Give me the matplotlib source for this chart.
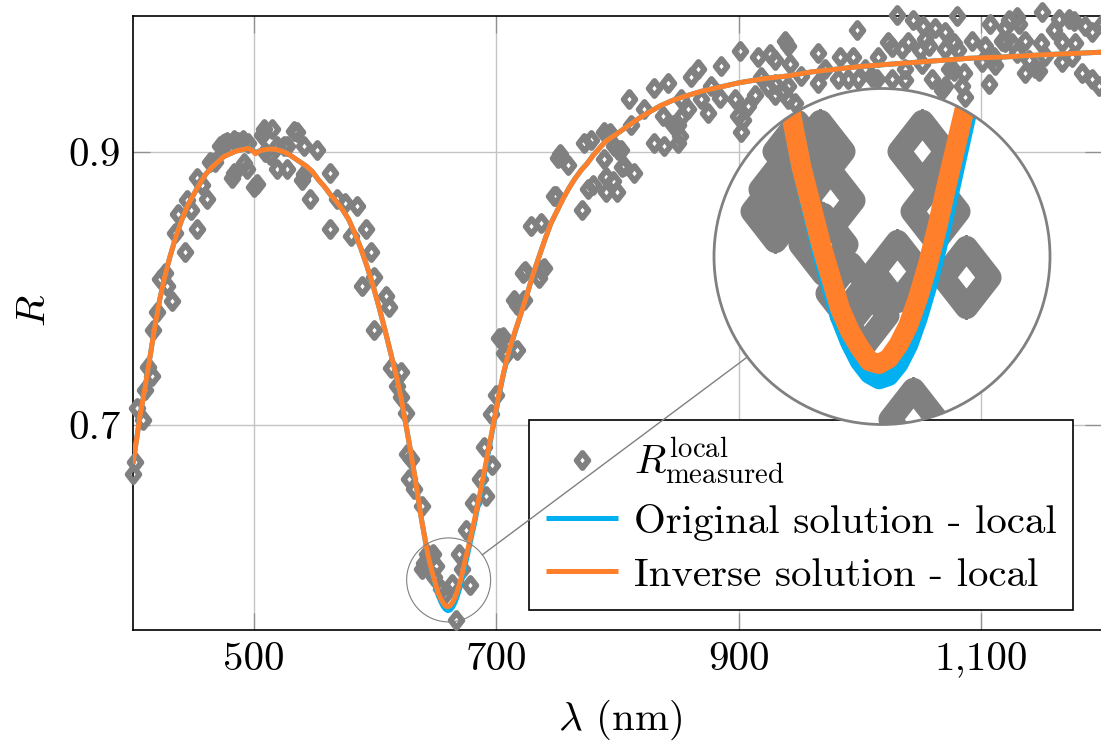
import matplotlib
matplotlib.use("Agg")
import matplotlib.pyplot as plt
from matplotlib.patches import Circle
from matplotlib.path import Path
from matplotlib.lines import Line2D
from matplotlib.transforms import IdentityTransform

FS = 29.5
plt.rcParams.update({
    "font.family": "cmr10",
    "mathtext.fontset": "cm",
    "axes.formatter.use_mathtext": True,
    "font.size": FS,
})

# ---------------- data ----------------
meas_x = [400.3, 401.7, 402.9, 408.5, 409.9, 412.7, 415.5, 416.8, 419.6, 422.3,
          426.5, 427.9, 432.0, 434.8, 437.5, 443.0, 444.4, 448.0, 452.7, 452.7,
          456.8, 461.0, 463.7, 467.9, 472.0, 474.0, 476.1, 478.0, 481.7, 483.0,
          483.0, 487.0, 491.0, 491.3, 494.0, 495.0, 499.5, 502.4, 506.5, 507.8,
          509.0, 513.4, 514.8, 518.9, 518.9, 524.4, 527.2, 527.2, 532.6, 535.4,
          539.6, 540.9, 541.0, 546.5, 552.0, 563.0, 563.0, 568.5, 575.4, 579.6,
          585.0, 589.2, 592.0, 596.1, 598.8, 598.8, 608.5, 611.3, 612.7, 618.2,
          620.9, 620.9, 625.1, 626.5, 627.8, 629.2, 632.0, 638.9, 638.6, 640.2,
          643.0, 647.8, 648.5, 649.9, 654.0, 656.9, 663.7, 667.0, 668.9, 671.5,
          674.7, 677.9, 681.1, 686.8, 689.6, 691.1, 695.3, 696.8, 699.6, 702.3,
          705.3, 706.4, 708.2, 714.6, 716.7, 716.7, 721.6, 723.0, 723.8, 728.5,
          735.2, 736.7, 736.8, 739.5, 747.8, 749.5, 750.6, 752.3, 759.5, 770.9,
          772.6, 775.4, 778.0, 779.4, 789.2, 789.2, 790.6, 790.6, 793.6, 796.5,
          797.4, 799.4, 800.2, 803.0, 803.6, 805.7, 809.8, 811.2, 814.0, 822.2,
          830.5, 830.5, 837.5, 838.8, 841.6, 845.8, 849.9, 849.9, 851.2, 852.6,
          852.6, 858.2, 860.9, 866.5, 869.2, 874.7, 877.4, 884.3, 885.7, 896.7,
          899.5, 901.0, 902.3, 903.6, 907.8, 913.3, 916.1, 918.8, 924.4, 925.7,
          929.8, 929.8, 929.9, 937.0, 938.1, 940.9, 940.9, 940.9, 942.3, 946.4,
          951.9, 965.7, 965.7, 971.0, 982.3, 983.6, 990.6, 994.7, 997.5, 998.8,
          1004.0, 1009.8, 1014.0, 1015.3, 1023.3, 1026.4, 1026.4, 1030.5, 1034.6, 1037.4,
          1037.4, 1040.2, 1044.3, 1049.7, 1051.2, 1052.0, 1054.0, 1056.8, 1059.5, 1062.0,
          1067.8, 1070.0, 1070.5, 1070.5, 1073.3, 1077.4, 1077.5, 1080.2, 1081.5, 1084.3,
          1085.7, 1087.0, 1092.6, 1100.9, 1103.6, 1106.4, 1107.8, 1110.5, 1111.9, 1117.4,
          1120.2, 1120.2, 1122.9, 1125.7, 1129.8, 1129.8, 1131.2, 1136.7, 1136.7, 1139.5,
          1145.0, 1147.7, 1150.0, 1150.5, 1153.3, 1160.0, 1164.3, 1167.0, 1167.0, 1172.6,
          1175.3, 1176.7, 1178.1, 1183.6, 1186.0, 1191.9, 1191.9, 1197.4, 1200.0]
meas_r = [0.664, 0.673, 0.713, 0.704, 0.726, 0.743, 0.736, 0.770, 0.783, 0.807,
          0.812, 0.802, 0.791, 0.841, 0.855, 0.827, 0.865, 0.858, 0.844, 0.881,
          0.876, 0.866, 0.893, 0.893, 0.905, 0.906, 0.907, 0.908, 0.881, 0.909,
          0.885, 0.908, 0.909, 0.892, 0.888, 0.907, 0.875, 0.877, 0.913, 0.917,
          0.900, 0.898, 0.917, 0.905, 0.888, 0.905, 0.905, 0.888, 0.916, 0.915,
          0.880, 0.884, 0.905, 0.866, 0.902, 0.844, 0.885, 0.866, 0.863, 0.839,
          0.861, 0.802, 0.844, 0.827, 0.770, 0.809, 0.795, 0.787, 0.742, 0.729,
          0.739, 0.721, 0.709, 0.679, 0.661, 0.675, 0.653, 0.641, 0.595, 0.599,
          0.606, 0.606, 0.589, 0.597, 0.580, 0.576, 0.584, 0.557, 0.606, 0.595,
          0.623, 0.583, 0.643, 0.661, 0.684, 0.648, 0.708, 0.671, 0.722, 0.764,
          0.765, 0.753, 0.752, 0.792, 0.755, 0.788, 0.812, 0.792, 0.813, 0.846,
          0.808, 0.848, 0.814, 0.815, 0.868, 0.868, 0.896, 0.899, 0.891, 0.858,
          0.907, 0.873, 0.909, 0.876, 0.915, 0.895, 0.882, 0.871, 0.914, 0.879,
          0.905, 0.871, 0.902, 0.902, 0.889, 0.890, 0.939, 0.920, 0.885, 0.932,
          0.947, 0.907, 0.927, 0.905, 0.951, 0.920, 0.920, 0.907, 0.912, 0.926,
          0.939, 0.932, 0.955, 0.961, 0.939, 0.929, 0.949, 0.940, 0.963, 0.939,
          0.927, 0.974, 0.915, 0.924, 0.934, 0.942, 0.970, 0.955, 0.948, 0.972,
          0.942, 0.968, 0.950, 0.944, 0.982, 0.949, 0.939, 0.978, 0.965, 0.936,
          0.956, 0.951, 0.973, 0.961, 0.954, 0.970, 0.954, 0.970, 0.990, 0.954,
          0.961, 0.955, 0.954, 0.970, 0.981, 0.977, 0.954, 1.001, 0.976, 0.953,
          0.961, 0.981, 0.997, 0.975, 0.965, 0.993, 0.983, 0.978, 0.954, 0.991,
          0.946, 0.976, 0.988, 0.949, 0.961, 0.960, 0.980, 1.000, 0.975, 0.949,
          0.958, 0.941, 0.982, 0.966, 0.978, 0.950, 0.994, 0.970, 0.964, 0.982,
          0.981, 0.991, 0.997, 0.980, 0.999, 0.973, 0.994, 0.958, 0.982, 0.968,
          0.962, 0.960, 0.980, 1.003, 0.971, 0.990, 0.998, 0.966, 0.981, 0.998,
          0.970, 0.996, 0.980, 0.958, 0.993, 0.954, 0.988, 0.949, 0.994]

inv_x = [400, 403, 406, 410, 414, 418, 422, 426, 430, 435, 440, 445, 450, 455, 460,
         465, 470, 475, 480, 485, 490, 495, 498, 501, 504, 508, 513, 518, 523, 528,
         533, 538, 543, 548, 553, 558, 563, 568, 573, 578, 583, 588, 593, 598, 603,
         608, 613, 618, 622, 626, 630, 634, 638, 640, 642, 644, 646, 648, 650, 652,
         654, 656, 658, 660, 662, 664, 666, 668, 670, 672, 674, 676, 678, 680, 682,
         684, 686, 688, 690, 694, 698, 702, 706, 710, 715, 720, 725, 730, 735, 740,
         745, 750, 755, 760, 765, 770, 775, 780, 785, 790, 795, 800, 808, 816, 825,
         835, 845, 855, 870, 885, 900, 920, 940, 960, 980, 1000, 1030, 1060, 1090, 1120,
         1150, 1175, 1200]
inv_r = [0.672, 0.690, 0.708, 0.728, 0.750, 0.772, 0.792, 0.808, 0.822, 0.837,
         0.850, 0.861, 0.869, 0.877, 0.884, 0.889, 0.893, 0.897, 0.899, 0.901,
         0.902, 0.903, 0.902, 0.899, 0.901, 0.902, 0.9025, 0.9022, 0.901, 0.899,
         0.896, 0.893, 0.890, 0.886, 0.880, 0.875, 0.869, 0.864, 0.858, 0.851,
         0.841, 0.830, 0.817, 0.803, 0.787, 0.770, 0.752, 0.734, 0.717, 0.697,
         0.677, 0.655, 0.632, 0.622, 0.612, 0.603, 0.596, 0.589, 0.583, 0.577,
         0.573, 0.570, 0.5675, 0.567, 0.568, 0.5705, 0.574, 0.579, 0.585, 0.592,
         0.600, 0.6075, 0.615, 0.623, 0.631, 0.640, 0.648, 0.657, 0.666, 0.685,
         0.703, 0.722, 0.739, 0.753, 0.768, 0.781, 0.795, 0.810, 0.823, 0.836,
         0.848, 0.857, 0.866, 0.874, 0.881, 0.887, 0.892, 0.898, 0.903, 0.908,
         0.911, 0.914, 0.919, 0.924, 0.929, 0.934, 0.938, 0.941, 0.945, 0.948,
         0.951, 0.954, 0.956, 0.959, 0.961, 0.963, 0.965, 0.967, 0.969, 0.970,
         0.9715, 0.9725, 0.9735]

orig_x = list(inv_x)
orig_r = [0.672, 0.690, 0.708, 0.728, 0.750, 0.772, 0.792, 0.808, 0.822, 0.837,
          0.850, 0.861, 0.869, 0.877, 0.884, 0.889, 0.893, 0.897, 0.899, 0.901,
          0.902, 0.903, 0.9025, 0.900, 0.901, 0.902, 0.9025, 0.9022, 0.901, 0.899,
          0.896, 0.893, 0.890, 0.886, 0.880, 0.875, 0.869, 0.864, 0.858, 0.851,
          0.841, 0.830, 0.817, 0.803, 0.787, 0.770, 0.752, 0.734, 0.717, 0.697,
          0.677, 0.655, 0.632, 0.622, 0.612, 0.603, 0.5955, 0.588, 0.5815, 0.5755,
          0.571, 0.5675, 0.5652, 0.5642, 0.5648, 0.567, 0.5705, 0.5755, 0.5815, 0.5885,
          0.5965, 0.6045, 0.6125, 0.6205, 0.6285, 0.6375, 0.6455, 0.6545, 0.6635, 0.683,
          0.702, 0.721, 0.738, 0.752, 0.767, 0.781, 0.795, 0.810, 0.823, 0.836,
          0.848, 0.857, 0.866, 0.874, 0.881, 0.887, 0.892, 0.898, 0.903, 0.908,
          0.911, 0.914, 0.919, 0.924, 0.929, 0.934, 0.938, 0.941, 0.945, 0.948,
          0.951, 0.954, 0.956, 0.959, 0.961, 0.963, 0.965, 0.967, 0.969, 0.970,
          0.9715, 0.9725, 0.9735]

x_ticks = [500, 700, 900, 1100]
x_tick_labels = ["500", "700", "900", "1,100"]
y_ticks = [0.7, 0.9]
y_tick_labels = ["0.7", "0.9"]

label_meas = r"$R^{\mathrm{local}}_{\mathrm{measured}}$"
label_orig = "Original solution - local"
label_inv = "Inverse solution - local"

# ---------------- style ----------------
GRAY = "#808080"
BLUE = "#00B0F0"
ORANGE = "#FF7F2A"
LW = 3.6
MS = 10.8
MEW = 4.2
diamond = Path([(0, 1), (0.78, 0), (0, -1), (-0.78, 0), (0, 1)],
               [Path.MOVETO, Path.LINETO, Path.LINETO, Path.LINETO, Path.CLOSEPOLY])

W, H = 1101, 747
fig = plt.figure(figsize=(W / 100, H / 100), dpi=100)
ax_l, ax_r, ax_t, ax_b = 133, 1102, 16, 630
ax = fig.add_axes([ax_l / W, 1 - ax_b / H, (ax_r - ax_l) / W, (ax_b - ax_t) / H])
XMIN, XMAX, YMIN, YMAX = 400, 1200, 0.55, 1.0
ax.set_xlim(XMIN, XMAX)
ax.set_ylim(YMIN, YMAX)


def draw_series(a, scale, clip=None):
    arts = []
    arts += a.plot(meas_x, meas_r, linestyle="none", marker=diamond, ms=MS * scale,
                   mfc="none", mec=GRAY, mew=MEW * scale, zorder=3,
                   clip_on=(clip is not None), label=label_meas)
    arts += a.plot(orig_x, orig_r, color=BLUE, lw=LW * scale, zorder=4,
                   solid_capstyle="butt", solid_joinstyle="round", label=label_orig)
    arts += a.plot(inv_x, inv_r, color=ORANGE, lw=LW * scale, zorder=5,
                   solid_capstyle="butt", solid_joinstyle="round", label=label_inv)
    if clip is not None:
        for art in arts:
            art.set_clip_path(clip)
    return arts


draw_series(ax, 1.0)

ax.set_xticks(x_ticks)
ax.set_xticklabels(x_tick_labels)
ax.set_yticks(y_ticks)
ax.set_yticklabels(y_tick_labels)
ax.grid(True, color="#c4c4c4", lw=1.0, zorder=0)
ax.set_axisbelow(True)
ax.tick_params(direction="in", length=12, width=0.9, color="#909090",
               top=True, right=True, pad=9, labelsize=FS)
for s in ax.spines.values():
    s.set_linewidth(1.2)
    s.set_color("black")

ax.set_xlabel(r"$\lambda$ (nm)")
ax.xaxis.label.set_va("center")
ax.xaxis.set_label_coords(0.5026, -0.147)
ax.set_ylabel(r"$R$")
ax.yaxis.label.set_va("center")
ax.yaxis.label.set_ha("center")
ax.yaxis.set_label_coords(-0.101, 0.521)

leg = ax.legend(loc="lower right", bbox_to_anchor=(0.970, 0.0326), borderaxespad=0,
                fancybox=False, framealpha=1, edgecolor="black",
                handlelength=1.76, handletextpad=0.39, labelspacing=0.4,
                borderpad=0.4, fontsize=FS)
leg.get_frame().set_linewidth(1.2)

# ---------------- spy / magnifier ----------------
spy_cx, spy_cy = 660.6, 0.5867
r_small = 42.0
mag = 4.0
big_c = (882.0, H - 256.5)

sx = (ax_r - ax_l) / (XMAX - XMIN)
sy = (ax_b - ax_t) / (YMAX - YMIN)
p_small = ax.transData.transform((spy_cx, spy_cy))
R_big = r_small * mag

axin = fig.add_axes([(big_c[0] - R_big) / W, (big_c[1] - R_big) / H,
                     2 * R_big / W, 2 * R_big / H], zorder=3)
axin.set_xlim(spy_cx - r_small / sx, spy_cx + r_small / sx)
axin.set_ylim(spy_cy - r_small / sy, spy_cy + r_small / sy)
axin.axis("off")
clipc = Circle((0.5, 0.5), 0.5, transform=axin.transAxes)
axin.add_patch(Circle((0.5, 0.5), 0.5, transform=axin.transAxes, fc="white",
                      ec="none", zorder=0))
draw_series(axin, mag, clip=clipc)
axin.add_patch(Circle((0.5, 0.5), 0.5, transform=axin.transAxes, fc="none",
                      ec=GRAY, lw=2.0, zorder=10, clip_on=False))

# small circle + connector (display pixels)
fig.add_artist(Circle(p_small, r_small, transform=IdentityTransform(), fill=False,
                      ec=GRAY, lw=0.8, zorder=2))
dx, dy = big_c[0] - p_small[0], big_c[1] - p_small[1]
d = (dx ** 2 + dy ** 2) ** 0.5
ux, uy = dx / d, dy / d
fig.add_artist(Line2D([p_small[0] + ux * r_small, big_c[0] - ux * R_big],
                      [p_small[1] + uy * r_small, big_c[1] - uy * R_big],
                      transform=IdentityTransform(), color=GRAY, lw=1.0, zorder=2))

fig.savefig("out.png", dpi=100)
